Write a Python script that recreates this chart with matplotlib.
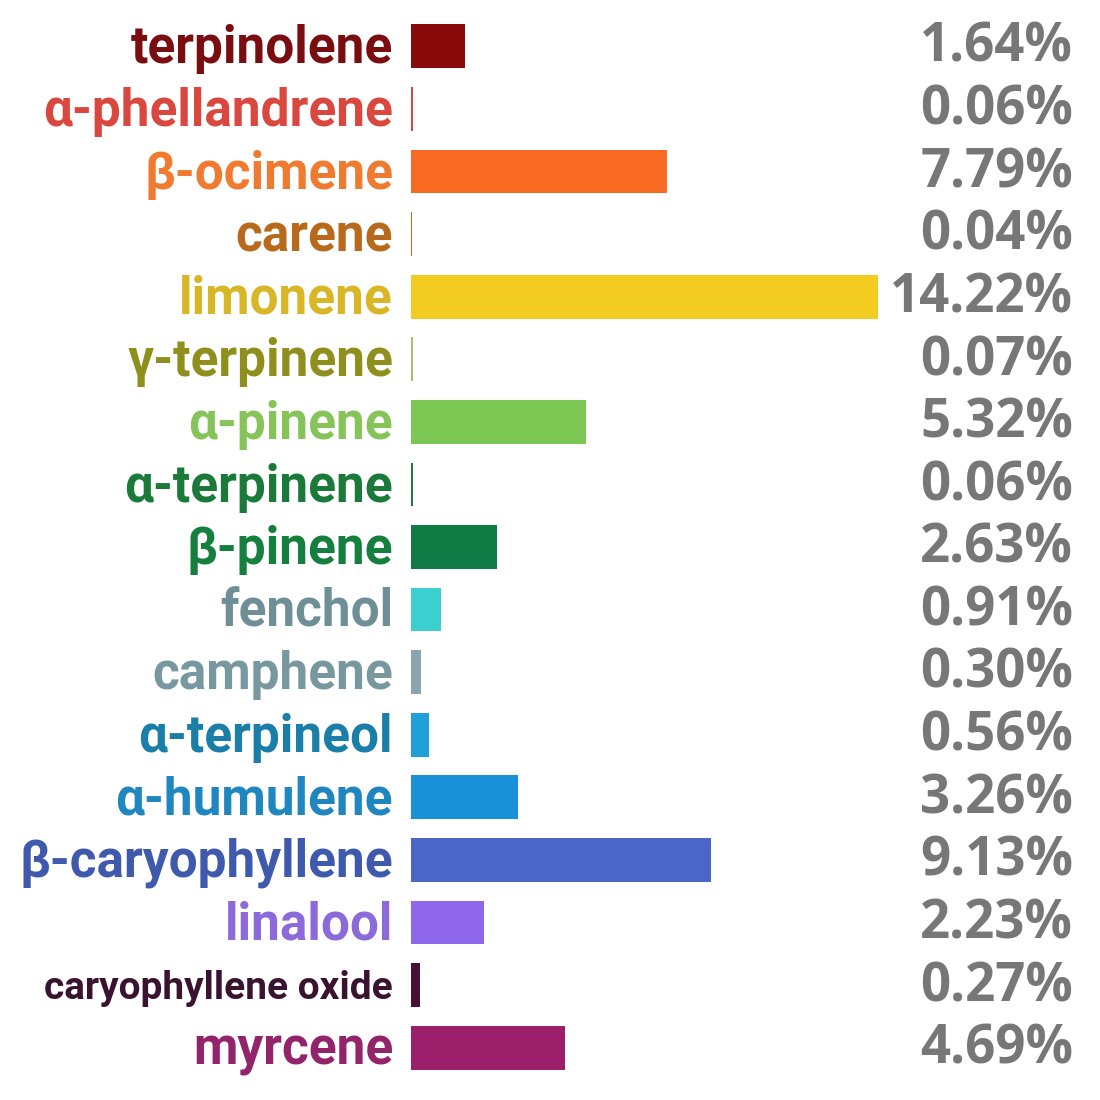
import matplotlib.pyplot as plt
import numpy as np

names = ['terpinolene', 'α-phellandrene', 'β-ocimene', 'carene', 'limonene', 'γ-terpinene',
         'α-pinene', 'α-terpinene', 'β-pinene', 'fenchol', 'camphene', 'α-terpineol',
         'α-humulene', 'β-caryophyllene', 'linalool', 'caryophyllene oxide', 'myrcene']
vals = [1.64, 0.06, 7.79, 0.04, 14.22, 0.07, 5.32, 0.06, 2.63, 0.91, 0.30, 0.56,
        3.26, 9.13, 2.23, 0.27, 4.69]
bar_col = ['#8a0a0c', '#d9473f', '#f96b22', '#b8691c', '#f3cc22', '#a8c070',
           '#7dc855', '#1b7a3a', '#0f7a44', '#3ccfcf', '#8aa5ad', '#1fa0d8',
           '#1990d8', '#4a66c8', '#8f67ec', '#4a0f36', '#9b1f6b']
lab_col = ['#7a0d10', '#d9473f', '#f07a30', '#b8691c', '#d9b626', '#8f8f1e',
           '#86c45a', '#1b7a3a', '#157f3e', '#6e8f95', '#76989e', '#1a7fa8',
           '#1f86c0', '#3f5aac', '#8c6ad9', '#3a1330', '#93236a']

plt.rcParams['font.family'] = ['Roboto', 'DejaVu Sans']

fig = plt.figure(figsize=(11, 11), dpi=100)
ax = fig.add_axes([411/1100, 1-1079/1100, 467/1100, 1064/1100])
y = np.arange(len(names))
ax.barh(y, vals, height=0.7, color=bar_col)
ax.set_xlim(0, max(vals))
ax.set_ylim(len(names)-0.5, -0.5)
ax.axis('off')

for i, n in enumerate(names):
    fs = 28 if n == 'caryophyllene oxide' else 37
    ax.text(-18/1100*14.22/(467/1100), i+0.05, n, ha='right', va='center', fontsize=fs,
            fontweight='bold', color=lab_col[i], stretch='condensed')
    # значения справа
    fig.text(1073/1100, 1-(48+i*62.6)/1100, f'{vals[i]:.2f}%', ha='right', va='center',
             fontsize=38, fontweight='bold', color='#777777', family=['Open Sans', 'DejaVu Sans'])

plt.savefig('out.png', dpi=100)
